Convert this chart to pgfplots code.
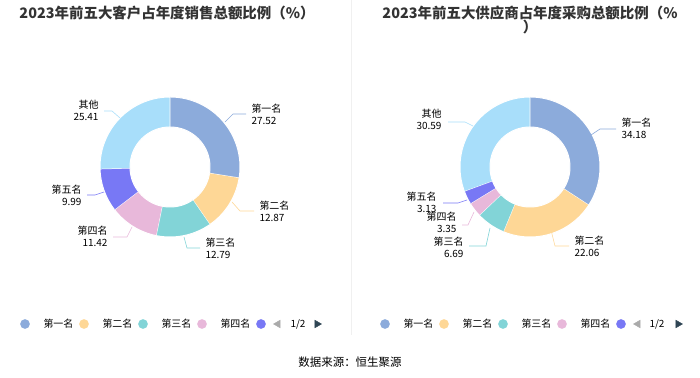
\documentclass[border=0pt]{standalone}
\usepackage{pgfplots}
\pgfplotsset{compat=1.18}
\usepackage{fontspec}
\setmainfont{Noto Sans CJK SC}
\definecolor{cA}{HTML}{8CABDB}
\definecolor{cB}{HTML}{FED796}
\definecolor{cC}{HTML}{82D4D7}
\definecolor{cD}{HTML}{E8B8DA}
\definecolor{cE}{HTML}{7878F5}
\definecolor{cF}{HTML}{A8DEFA}
\definecolor{txt}{HTML}{606060}
\definecolor{ttl}{HTML}{333333}
\definecolor{navdark}{HTML}{2F4554}
\definecolor{navgray}{HTML}{AAAAAA}
% donut slice: cx, cy, value, color  (uses running sum \cumsum)
\newcommand\slice[4]{%
  \pgfmathsetmacro\sA{\cumsum}%
  \pgfmathsetmacro\sB{\cumsum+#3}%
  \edef\doit{\noexpand\addplot[fill=#4, draw=white, line width=1pt, domain=0:3, samples=301, variable=\noexpand\t, forget plot]
   ({#1+(\noexpand\t<=1.5 ? 70 : 40)*cos(90-3.6*(\noexpand\t<=1.5 ? \sA+(\sB-\sA)*min(\noexpand\t,1) : \sB-(\sB-\sA)*max(\noexpand\t-2,0)))},
    {#2+(\noexpand\t<=1.5 ? 70 : 40)*sin(90-3.6*(\noexpand\t<=1.5 ? \sA+(\sB-\sA)*min(\noexpand\t,1) : \sB-(\sB-\sA)*max(\noexpand\t-2,0)))});}%
  \doit
  \xdef\cumsum{\sB}%
}
\begin{document}
\begin{tikzpicture}
\useasboundingbox (0,0) rectangle (700bp,378bp);
\begin{axis}[at={(0,0)}, anchor=south west, width=700bp, height=378bp, scale only axis, xmin=0, xmax=700, ymin=-378, ymax=0, hide axis, clip=false,
  every node/.style={font=\fontsize{10}{11}\selectfont, text=txt, inner sep=0pt}]
% divider
\addplot[color=gray!12, line width=0.8pt, forget plot] coordinates {(351,0) (351,-335)};
% ---- left donut ----
\xdef\cumsum{0}
\slice{170}{-167}{27.52}{cA}
\slice{170}{-167}{12.87}{cB}
\slice{170}{-167}{12.79}{cC}
\slice{170}{-167}{11.42}{cD}
\slice{170}{-167}{9.99}{cE}
\slice{170}{-167}{25.41}{cF}
% leaders left
\addplot[cA, line width=0.6pt, forget plot] coordinates {(225,-122) (233,-114) (246,-114)};
\addplot[cB, line width=0.6pt, forget plot] coordinates {(232,-202) (240,-211) (254,-211)};
\addplot[cC, line width=0.6pt, forget plot] coordinates {(184,-237) (187,-248) (200,-248)};
\addplot[cD, line width=0.6pt, forget plot] coordinates {(132,-227) (127,-237) (113,-237)};
\addplot[cE, line width=0.6pt, forget plot] coordinates {(104,-192) (95,-195) (87,-195)};
\addplot[cF, line width=0.6pt, forget plot] coordinates {(120,-118) (112,-111) (104,-111)};
\node[anchor=west, align=left] at (axis cs:248,-114) {第一名\\27.52};
\node[anchor=west, align=left] at (axis cs:256,-211) {第二名\\12.87};
\node[anchor=west, align=left] at (axis cs:202,-248) {第三名\\12.79};
\node[anchor=east, align=right] at (axis cs:111,-236) {第四名\\11.42};
\node[anchor=east, align=right] at (axis cs:85,-195) {第五名\\9.99};
\node[anchor=east, align=right] at (axis cs:102,-110) {其他\\25.41};
% ---- right donut ----
\xdef\cumsum{0}
\slice{530}{-167}{34.18}{cA}
\slice{530}{-167}{22.06}{cB}
\slice{530}{-167}{6.69}{cC}
\slice{530}{-167}{3.35}{cD}
\slice{530}{-167}{3.13}{cE}
\slice{530}{-167}{30.59}{cF}
\addplot[cA, line width=0.6pt, forget plot] coordinates {(591,-135) (600,-129) (616,-129)};
\addplot[cB, line width=0.6pt, forget plot] coordinates {(551,-230) (555,-246) (569,-246)};
\addplot[cC, line width=0.6pt, forget plot] coordinates {(490,-228) (486,-246) (469,-246)};
\addplot[cD, line width=0.6pt, forget plot] coordinates {(474,-212) (468,-225) (462,-225)};
\addplot[cE, line width=0.6pt, forget plot] coordinates {(467,-200) (458,-203) (443,-203)};
\addplot[cF, line width=0.6pt, forget plot] coordinates {(473,-126) (465,-122) (448,-122)};
\node[anchor=west, align=left] at (axis cs:618,-128) {第一名\\34.18};
\node[anchor=west, align=left] at (axis cs:571,-246) {第二名\\22.06};
\node[anchor=east, align=right] at (axis cs:467,-247) {第三名\\6.69};
\node[anchor=east, align=right] at (axis cs:460,-222) {第四名\\3.35};
\node[anchor=east, align=right] at (axis cs:440,-202) {第五名\\3.13};
\node[anchor=east, align=right] at (axis cs:445,-119) {其他\\30.59};
% ---- titles ----
\node[font=\fontsize{14.5}{17}\bfseries\selectfont, text=ttl] at (axis cs:167,-13) {2023年前五大客户占年度销售总额比例（\%）};
\node[font=\fontsize{14.5}{15}\bfseries\selectfont, text=ttl, align=center] at (axis cs:530,-20) {2023年前五大供应商占年度采购总额比例（\%\\）};
% ---- legends ----
\addplot[only marks, mark=*, mark size=4.6pt, mark options={fill=cA, draw=cA}, forget plot] coordinates {(25,-324) (385,-324)};
\addplot[only marks, mark=*, mark size=4.6pt, mark options={fill=cB, draw=cB}, forget plot] coordinates {(84,-324) (444,-324)};
\addplot[only marks, mark=*, mark size=4.6pt, mark options={fill=cC, draw=cC}, forget plot] coordinates {(143,-324) (503,-324)};
\addplot[only marks, mark=*, mark size=4.6pt, mark options={fill=cD, draw=cD}, forget plot] coordinates {(202,-324) (562,-324)};
\addplot[only marks, mark=*, mark size=4.6pt, mark options={fill=cE, draw=cE}, forget plot] coordinates {(261,-324) (621,-324)};
\addplot[only marks, mark=triangle*, mark size=4.5pt, mark options={rotate=90, fill=navgray, draw=navgray}, forget plot]
  coordinates {(278,-324) (638,-324)};
\addplot[only marks, mark=triangle*, mark size=4.5pt, mark options={rotate=-90, fill=navdark, draw=navdark}, forget plot]
  coordinates {(317,-324) (678,-324)};
\node[anchor=west] at (axis cs:40,-324) {第一名};
\node[anchor=west] at (axis cs:99,-324) {第二名};
\node[anchor=west] at (axis cs:158,-324) {第三名};
\node[anchor=west] at (axis cs:217,-324) {第四名};
\node at (axis cs:298,-324) {1/2};
\node[anchor=west] at (axis cs:400,-324) {第一名};
\node[anchor=west] at (axis cs:459,-324) {第二名};
\node[anchor=west] at (axis cs:518,-324) {第三名};
\node[anchor=west] at (axis cs:577,-324) {第四名};
\node at (axis cs:657,-324) {1/2};
% source
\node[font=\fontsize{11.5}{13}\selectfont] at (axis cs:350,-362) {数据来源：恒生聚源};
\end{axis}
\end{tikzpicture}
\end{document}
